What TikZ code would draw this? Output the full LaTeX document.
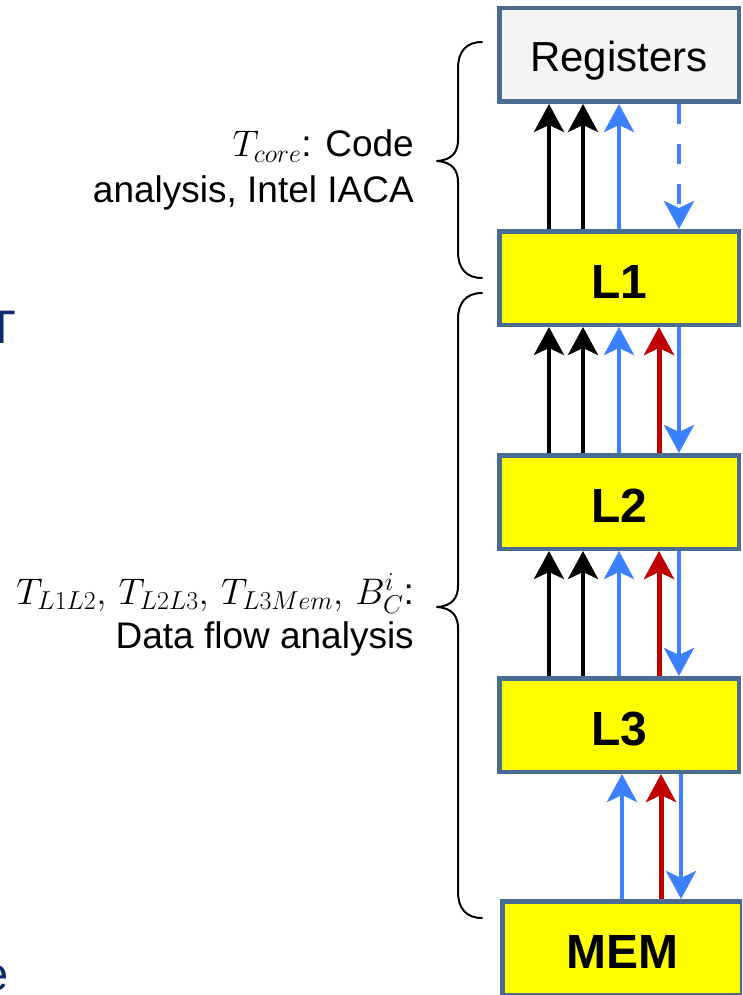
\RequirePackage{fix-cm}
\documentclass[tikz,border=0pt]{standalone}
\usepackage{fontspec}
\setmainfont{Liberation Sans}
\usetikzlibrary{arrows.meta}

\definecolor{frameblue}{HTML}{4A6C93}
\definecolor{flowblue}{HTML}{3A80FF}
\definecolor{flowred}{HTML}{C00000}
\definecolor{navy}{HTML}{0D2B6B}
\definecolor{regfill}{HTML}{F5F5F5}
\definecolor{boxyellow}{HTML}{FFFF00}

\begin{document}
\begin{tikzpicture}[x=1pt, y=-1pt,
  lvl/.style={draw=frameblue, line width=4.5pt, fill=boxyellow,
    minimum width=239.5pt, minimum height=93.5pt, inner sep=0pt,
    text height=40pt, text depth=0pt,
    font=\fontsize{48}{48}\selectfont\bfseries},
  regbox/.style={lvl, fill=regfill, text height=34pt,
    font=\fontsize{42}{42}\selectfont},
  tipflow/.style={-{Stealth[length=28pt, width=30pt, inset=7pt]}},
  blk/.style={tipflow, line width=4pt, color=black},
  blu/.style={tipflow, line width=4.5pt, color=flowblue},
  rd/.style={tipflow, line width=5pt, color=flowred},
  bludash/.style={blu, dash pattern=on 20pt off 20pt},
  lab/.style={inner sep=0pt, font=\fontsize{37}{43}\selectfont},
  ttl/.style={inner sep=0pt, text=navy, font=\fontsize{47}{47}\selectfont},
  brc/.style={line width=2pt, line cap=round, line join=round}
]
\useasboundingbox (0,0) rectangle (742,995);
\clip (0,0) rectangle (742,995);

% memory hierarchy levels
\node[regbox] (reg) at (619,55)  {Registers};
\node[lvl]    (l1)  at (619,278) {L1};
\node[lvl]    (l2)  at (619,502) {L2};
\node[lvl]    (l3)  at (619,725) {L3};
\node[lvl]    (mem) at (622,948) {MEM};

% columns of the transfer arrows
\coordinate (ka) at (549,0);
\coordinate (kb) at (583,0);
\coordinate (ba) at (619,0);
\coordinate (ra) at (659,0);
\coordinate (bb) at (679,0);
\coordinate (bm) at (622,0);
\coordinate (rm) at (661,0);
\coordinate (bn) at (681,0);

% L1 <-> registers
\draw[blk] (l1.north -| ka) -- (reg.south -| ka);
\draw[blk] (l1.north -| kb) -- (reg.south -| kb);
\draw[blu] (l1.north -| ba) -- (reg.south -| ba);
\draw[bludash] (reg.south -| bb) -- (l1.north -| bb);

% cache to cache
\foreach \lo/\hi in {l2/l1, l3/l2} {
  \draw[blk] (\lo.north -| ka) -- (\hi.south -| ka);
  \draw[blk] (\lo.north -| kb) -- (\hi.south -| kb);
  \draw[blu] (\lo.north -| ba) -- (\hi.south -| ba);
  \draw[rd]  (\lo.north -| ra) -- (\hi.south -| ra);
  \draw[blu] (\hi.south -| bb) -- (\lo.north -| bb);
}

% memory <-> L3
\draw[blu] (mem.north -| bm) -- (l3.south -| bm);
\draw[rd]  (mem.north -| rm) -- (l3.south -| rm);
\draw[blu] (l3.south -| bn) -- (mem.north -| bn);

% braces
\draw[brc] (482,42) .. controls (466,42) and (458,52) .. (458,68)
  -- (458,140) .. controls (458,152) and (452,160) .. (437,161)
  .. controls (452,162) and (458,170) .. (458,182)
  -- (458,252) .. controls (458,268) and (466,278) .. (482,278);
\draw[brc] (482,293) .. controls (466,293) and (458,303) .. (458,319)
  -- (458,586) .. controls (458,598) and (452,606) .. (437,607)
  .. controls (452,608) and (458,616) .. (458,628)
  -- (458,892) .. controls (458,908) and (466,918) .. (482,918);

% brace labels
\node[lab, anchor=base east] (c1) at (414,157) {$T_{core}$: Code};
\node[lab, anchor=base east] (c2) at (414,202) {analysis, Intel IACA};
\node[lab, anchor=base east] (d1) at (414,604)
  {$T_{L1L2},\, T_{L2L3},\, T_{L3Mem},\, B_C^i$:};
\node[lab, anchor=base east] (d2) at (414,648) {Data flow analysis};

% title letters at the left edge
\node[ttl, anchor=base] (tt) at (1.75,343) {T};
\node[ttl, anchor=base] (te) at (-4,990) {e};
\end{tikzpicture}
\end{document}
